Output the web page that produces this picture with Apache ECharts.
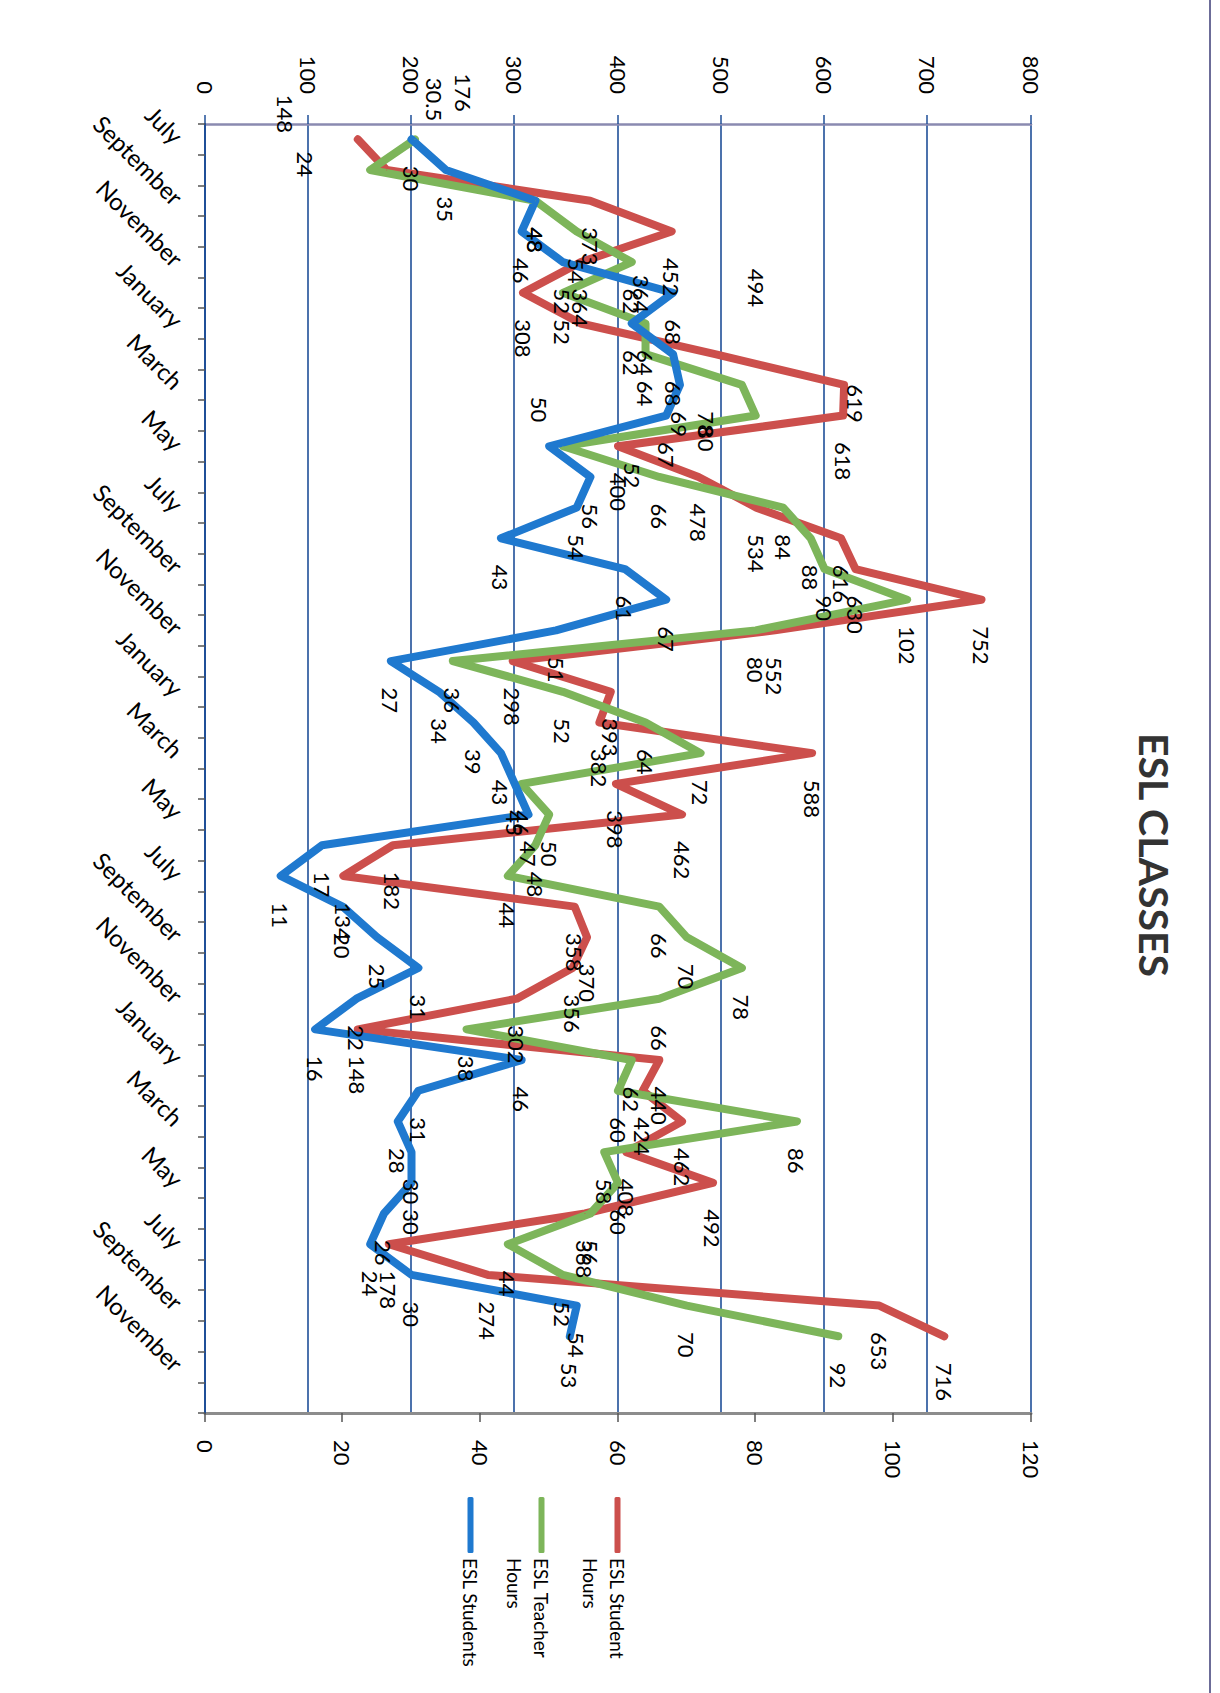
<!DOCTYPE html>
<html>
<head>
<meta charset="utf-8">
<title>ESL CLASSES</title>
<script src="https://cdn.jsdelivr.net/npm/echarts@6/dist/echarts.min.js"></script>
<style>
  html, body { margin: 0; padding: 0; background: #ffffff; overflow: hidden; }
  body { width: 1220px; height: 1693px; position: relative; }
  /* The chart is laid out landscape and turned a quarter clockwise onto the portrait page */
  #chart { position: absolute; left: 0; top: 0; width: 1693px; height: 1220px;
           transform-origin: 0 0; transform: translate(1220px, 0) rotate(90deg); }
</style>
</head>
<body>
<div id="chart"></div>
<script>
// Months, July of the first year through December of the fourth
const categories = [
  'July','August','September','October','November','December',
  'January','February','March','April','May','June',
  'July','August','September','October','November','December',
  'January','February','March','April','May','June',
  'July','August','September','October','November','December',
  'January','February','March','April','May','June',
  'July','August','September','October','November','December'
];

// ESL Student Hours (left scale)
const studentHours = [
  148, 176, 373, 452, 364, 308, 364, 494, 619, 618,
  400, 478, 534, 616, 630, 752, 552, 298, 393, 382,
  588, 398, 462, 182, 134, 358, 370, 356, 302, 148,
  440, 424, 462, 408, 492, 368, 178, 274, 653, 716
];

// ESL Teacher Hours (right scale)
const teacherHours = [
  30.5, 24, 48, 54, 62, 52, 64, 64, 78, 80,
  52, 66, 84, 88, 90, 102, 80, 36, 52, 64,
  72, 46, 50, 48, 44, 66, 70, 78, 66, 38,
  62, 60, 86, 58, 60, 56, 44, 52, 70, 92
];

// ESL Students (right scale)
const students = [
  30, 35, 48, 46, 52, 68, 62, 68, 69, 67,
  50, 56, 54, 43, 61, 67, 51, 27, 34, 39,
  43, 45, 47, 17, 11, 20, 25, 31, 22, 16,
  46, 31, 28, 30, 30, 26, 24, 30, 54, 53
];

// Value-axis ranges and steps
const hoursAxis = { min: 0, max: 800, interval: 100 };
const countAxis = { min: 0, max: 120, interval: 20 };

// A few data labels sit away from their usual spot beside the line
const labelShifts = {
  studentHours: { 0: [-71, 72], 1: [-123, -77], 6: [-75, -61], 7: [-112, -41], 8: [-27, -11] },
  teacherHours: { 0: [-88, -20], 1: [-45, 65], 8: [0, 35], 9: [-16, 49], 10: [-10, -70] },
  students:     { 10: [-76, 10] }
};

const FONT = 'Lato, "Open Sans", "Noto Sans", sans-serif';
const RED = '#cc4f4c';
const GREEN = '#7db55a';
const BLUE = '#1f79cf';
const GRID_BLUE = '#1f4f98';

function withLabels(values, shifts) {
  return values.map(function (v, i) {
    if (shifts[i]) {
      return { value: v, label: { offset: shifts[i] } };
    }
    return v;
  });
}

function lineSeries(name, values, color, axisIndex, shifts) {
  return {
    name: name,
    type: 'line',
    yAxisIndex: axisIndex,
    data: withLabels(values, shifts),
    symbol: 'circle',
    symbolSize: 1,
    showSymbol: true,
    lineStyle: { color: color, width: 8, join: 'round', cap: 'round' },
    itemStyle: { color: color },
    label: {
      show: true,
      position: 'right',
      distance: 26,
      color: '#000000',
      fontFamily: FONT,
      fontSize: 22
    },
    emphasis: { disabled: true },
    animation: false,
    clip: false,
    z: 3
  };
}

const chart = echarts.init(document.getElementById('chart'), null, {
  renderer: 'svg', width: 1693, height: 1220
});

const legendText = { fontFamily: FONT, fontSize: 19, color: '#000000', lineHeight: 27 };

chart.setOption({
  backgroundColor: '#ffffff',
  animation: false,
  title: {
    text: 'ESL CLASSES',
    left: 728,
    top: 40,
    textStyle: { fontFamily: FONT, fontSize: 41, fontWeight: 'bold', color: '#333333' }
  },
  // Edge of the chart frame along the title side
  graphic: [
    {
      type: 'line',
      shape: { x1: 0, y1: 10, x2: 1693, y2: 10 },
      style: { stroke: '#6c6c98', lineWidth: 2 },
      silent: true
    }
  ],
  legend: [
    {
      data: ['ESL Student Hours'], orient: 'vertical', left: 1497, top: 562, padding: 0,
      icon: 'roundRect', itemWidth: 56, itemHeight: 6, itemGap: 5,
      formatter: function () { return '\nESL Student\nHours'; },
      textStyle: legendText
    },
    {
      data: ['ESL Teacher Hours'], orient: 'vertical', left: 1497, top: 638, padding: 0,
      icon: 'roundRect', itemWidth: 56, itemHeight: 6, itemGap: 5,
      formatter: function () { return '\nESL Teacher\nHours'; },
      textStyle: legendText
    },
    {
      data: ['ESL Students'], orient: 'vertical', left: 1497, top: 736, padding: 0,
      icon: 'roundRect', itemWidth: 56, itemHeight: 6, itemGap: 5,
      textStyle: legendText
    }
  ],
  grid: { left: 124, right: 280, top: 189, bottom: 205, containLabel: false },
  xAxis: {
    type: 'category',
    data: categories,
    boundaryGap: true,
    axisLine: { show: true, lineStyle: { color: GRID_BLUE, width: 2 } },
    axisTick: { show: true, interval: 0, length: 7, lineStyle: { color: '#555555', width: 1.5 } },
    axisLabel: {
      interval: 1, rotate: 45, margin: 26,
      fontFamily: FONT, fontSize: 24, color: '#000000'
    },
    splitLine: { show: false }
  },
  yAxis: [
    {
      type: 'value',
      position: 'left',
      min: hoursAxis.min, max: hoursAxis.max, interval: hoursAxis.interval,
      axisLine: { show: true, lineStyle: { color: '#8a8ab0', width: 2.5 } },
      axisTick: { show: true, length: 9, lineStyle: { color: GRID_BLUE, width: 1.5 } },
      axisLabel: { margin: 30, fontFamily: FONT, fontSize: 22, color: '#000000' },
      splitLine: { show: true, lineStyle: { color: GRID_BLUE, width: 1.6 } }
    },
    {
      type: 'value',
      position: 'right',
      min: countAxis.min, max: countAxis.max, interval: countAxis.interval,
      axisLine: { show: true, lineStyle: { color: '#8c8c8c', width: 3 } },
      axisTick: { show: true, length: 9, lineStyle: { color: '#555555', width: 1.5 } },
      axisLabel: { margin: 27, fontFamily: FONT, fontSize: 22, color: '#000000' },
      splitLine: { show: false }
    }
  ],
  series: [
    lineSeries('ESL Student Hours', studentHours, RED, 0, labelShifts.studentHours),
    lineSeries('ESL Teacher Hours', teacherHours, GREEN, 1, labelShifts.teacherHours),
    lineSeries('ESL Students', students, BLUE, 1, labelShifts.students)
  ]
});
</script>
</body>
</html>
